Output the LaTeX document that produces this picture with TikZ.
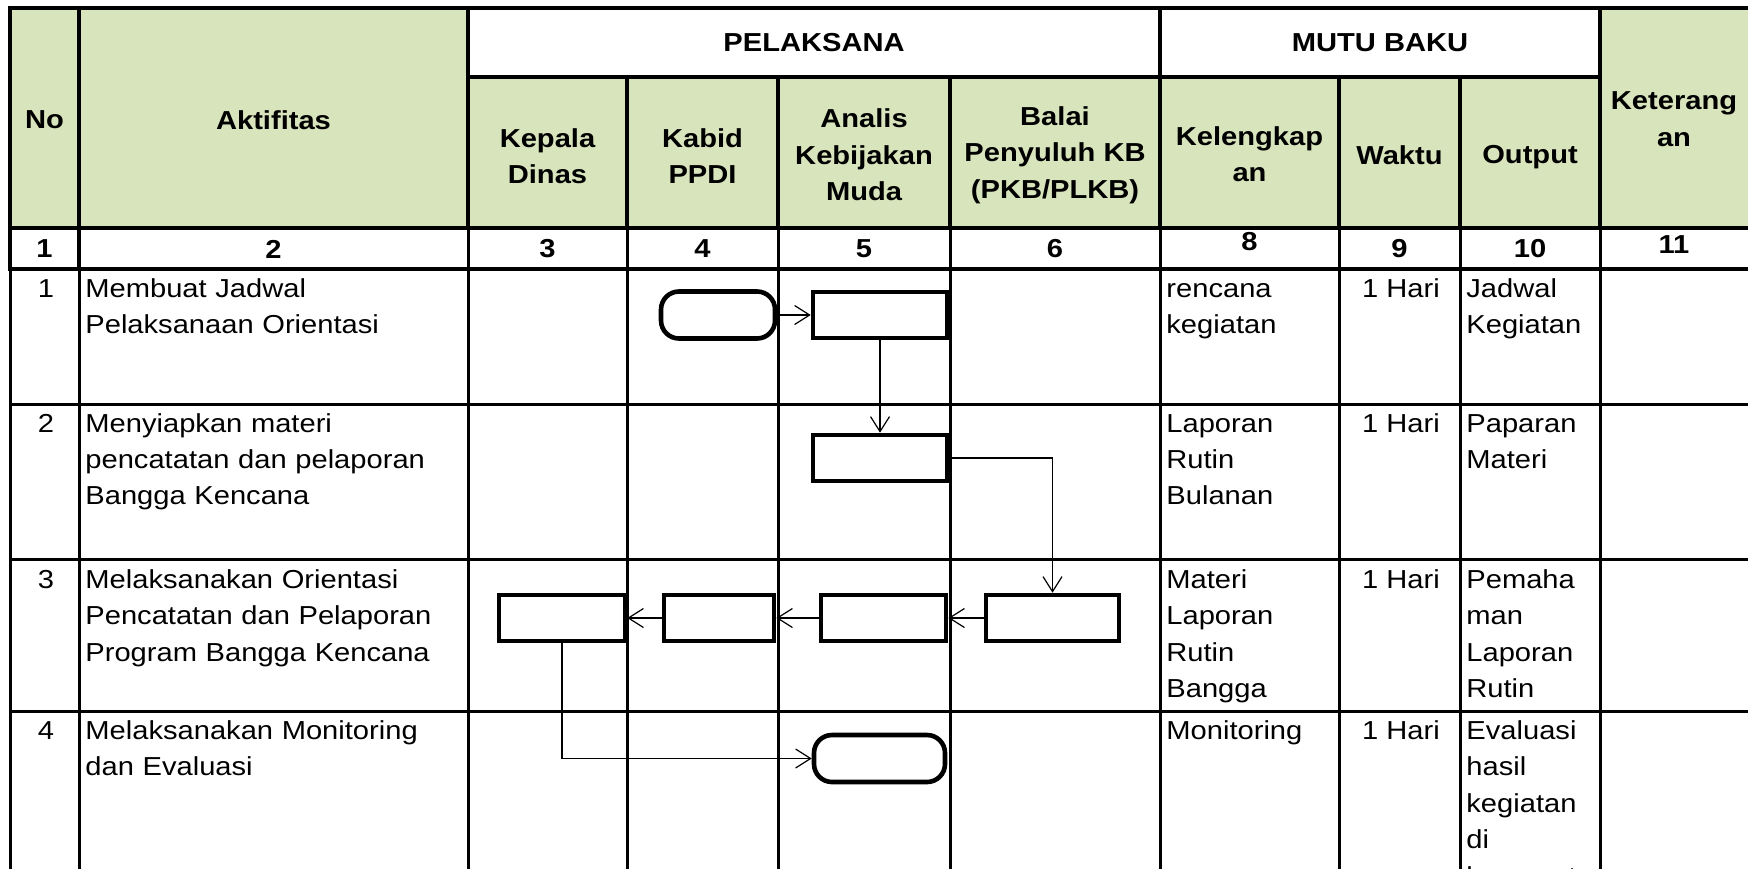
\documentclass[tikz,border=0pt]{standalone}
\usepackage{fontspec}
\setmainfont[FakeStretch=1.12]{Liberation Sans}
\usetikzlibrary{arrows.meta}

\newcommand{\tabfont}{\fontsize{13}{18.2}\selectfont}

\begin{document}
\begin{tikzpicture}[x=0.5pt, y=-0.5pt, font=\tabfont]

	% Styles
	\tikzset{
		tline/.style={line width=1.5pt},
		tlinebold/.style={line width=2.2pt, line cap=rect},
		hdr/.style={font=\tabfont\bfseries, align=center, inner sep=0pt},
		cell/.style={
			anchor=base west, text width=#1, align=left, inner sep=0pt,
		},
		cellc/.style={anchor=base, inner sep=0pt},
		proc/.style={
			rectangle, draw=black, line width=2.3pt,
			minimum width=#1, minimum height=23pt,
			inner sep=0pt,
		},
		term/.style={
			rectangle, draw=black, line width=2.3pt,
			minimum width=#1, minimum height=23.5pt,
			rounded corners=9pt, inner sep=0pt,
		},
		arrow/.style={
			line width=0.6pt, -{Straight Barb[length=7.5pt, width=9.5pt]},
		}
	}

	% Colors
	\definecolor{hdrgreen}{RGB}{216,228,188}

	% Page frame (table runs off the right and bottom edge)
	\useasboundingbox (0,0) rectangle (1748,868);
	\clip (0,0) rectangle (1748,868);

	% Header background
	\fill[hdrgreen] (10,8) rectangle (468,228);
	\fill[hdrgreen] (468,77) rectangle (1600,228);
	\fill[hdrgreen] (1600,8) rectangle (1760,228);

	% Body grid
	\draw[tline] (10,404) -- (1760,404);
	\draw[tline] (10,559) -- (1760,559);
	\draw[tline] (10,711) -- (1760,711);
	\draw[tline] (10,269) -- (10,880);
	\draw[tline] (79,269) -- (79,880);
	\draw[tline] (468,228) -- (468,880);
	\draw[tline] (627,228) -- (627,880);
	\draw[tline] (778,228) -- (778,880);
	\draw[tline] (950,228) -- (950,880);
	\draw[tline] (1160,228) -- (1160,880);
	\draw[tline] (1339,228) -- (1339,880);
	\draw[tline] (1460,228) -- (1460,880);
	\draw[tline] (1600,228) -- (1600,880);

	% Header grid
	\draw[tlinebold] (10,8) -- (1760,8);
	\draw[tlinebold] (468,77) -- (1600,77);
	\draw[tlinebold] (10,228) -- (1760,228);
	\draw[tlinebold] (10,269) -- (1760,269);
	\draw[tlinebold] (10,8) -- (10,269);
	\draw[tlinebold] (79,8) -- (79,269);
	\draw[tlinebold] (468,8) -- (468,228);
	\draw[tlinebold] (1160,8) -- (1160,228);
	\draw[tlinebold] (1600,8) -- (1600,228);
	\draw[tlinebold] (627,77) -- (627,228);
	\draw[tlinebold] (778,77) -- (778,228);
	\draw[tlinebold] (950,77) -- (950,228);
	\draw[tlinebold] (1339,77) -- (1339,228);
	\draw[tlinebold] (1460,77) -- (1460,228);

	% Header labels
	\node[hdr] (hNo) at (44.5,120) {No};
	\node[hdr] (hAkt) at (273.5,120) {Aktifitas};
	\node[hdr] (hPel) at (814,43) {PELAKSANA};
	\node[hdr] (hMutu) at (1380,43) {MUTU BAKU};
	\node[hdr] (hKadis) at (547.5,156) {Kepala\\Dinas};
	\node[hdr] (hKabid) at (702.5,156) {Kabid\\PPDI};
	\node[hdr] (hAnalis) at (864,155) {Analis\\Kebijakan\\Muda};
	\node[hdr] (hBalai) at (1055,155) {Balai\\Penyuluh KB\\(PKB/PLKB)};
	\node[hdr] (hKel) at (1249.5,154) {Kelengkap\\an};
	\node[hdr] (hWaktu) at (1399.5,155) {Waktu};
	\node[hdr] (hOut) at (1530,157) {Output};
	\node[hdr] (hKet) at (1674,119) {Keterang\\an};

	% Column numbers
	\node[hdr] (n1) at (44.5,249) {1};
	\node[hdr] (n2) at (273.5,249) {2};
	\node[hdr] (n3) at (547.5,249) {3};
	\node[hdr] (n4) at (702.5,249) {4};
	\node[hdr] (n5) at (864,249) {5};
	\node[hdr] (n6) at (1055,249) {6};
	\node[hdr] (n8) at (1249.5,242) {8};
	\node[hdr] (n9) at (1399.5,249) {9};
	\node[hdr] (n10) at (1530,249) {10};
	\node[hdr] (n11) at (1674,245) {11};

	% Row 1
	\node[cellc] (no1) at (46,297.5) {1};
	\node[cell=185pt] (akt1) at (85,297.5) {Membuat Jadwal\\Pelaksanaan Orientasi};
	\node[cell=85pt] (kel1) at (1166,297.5) {rencana\\kegiatan};
	\node[cellc] (wkt1) at (1401,297.5) {1 Hari};
	\node[cell=65pt] (out1) at (1466,297.5) {Jadwal\\Kegiatan};

	% Row 2
	\node[cellc] (no2) at (46,432) {2};
	\node[cell=185pt] (akt2) at (85,432) {Menyiapkan materi\\pencatatan dan pelaporan\\Bangga Kencana};
	\node[cell=85pt] (kel2) at (1166,432) {Laporan\\Rutin\\Bulanan};
	\node[cellc] (wkt2) at (1401,432) {1 Hari};
	\node[cell=65pt] (out2) at (1466,432) {Paparan\\Materi};

	% Row 3
	\node[cellc] (no3) at (46,588.5) {3};
	\node[cell=185pt] (akt3) at (85,588.5) {Melaksanakan Orientasi\\Pencatatan dan Pelaporan\\Program Bangga Kencana};
	\node[cell=85pt] (kel3) at (1166,588.5) {Materi\\Laporan\\Rutin\\Bangga};
	\node[cellc] (wkt3) at (1401,588.5) {1 Hari};
	\node[cell=65pt] (out3) at (1466,588.5) {Pemaha\\man\\Laporan\\Rutin};

	% Row 4
	\node[cellc] (no4) at (46,739.5) {4};
	\node[cell=185pt] (akt4) at (85,739.5) {Melaksanakan Monitoring\\dan Evaluasi};
	\node[cell=85pt] (kel4) at (1166,739.5) {Monitoring};
	\node[cellc] (wkt4) at (1401,739.5) {1 Hari};
	\node[cell=65pt] (out4) at (1466,739.5) {Evaluasi\\hasil\\kegiatan\\di\\kecamatan};

	% Flow symbols
	\node[term=57pt] (t1) at (718,315) {};
	\node[proc=67pt] (p1) at (880,315) {};
	\node[proc=67pt] (p2) at (880,458) {};
	\node[proc=66.5pt] (p3) at (1052.5,618) {};
	\node[proc=62.5pt] (p4) at (883.5,618) {};
	\node[proc=55pt] (p5) at (719,618) {};
	\node[proc=63pt] (p6) at (562,618) {};
	\node[term=65.5pt] (t2) at (879.5,758.5) {};

	% Connectors
	\draw[arrow] (t1) -- (p1);
	\draw[arrow] (p1) -- (p2);
	\draw[arrow] (p2.east) -| (p3.north);
	\draw[arrow] (p3) -- (p4);
	\draw[arrow] (p4) -- (p5);
	\draw[arrow] (p5) -- (p6);
	\draw[arrow] (p6.south) |- (t2.west);

\end{tikzpicture}
\end{document}
